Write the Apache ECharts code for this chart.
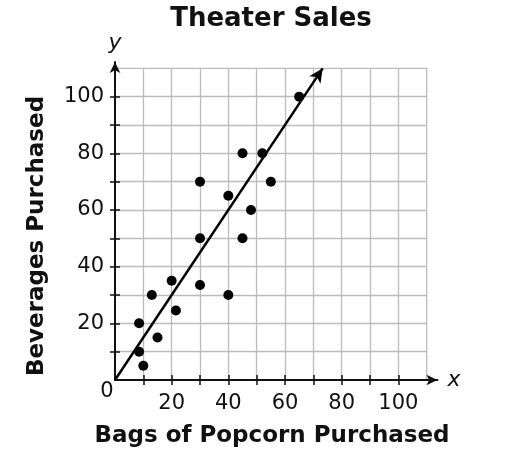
<!DOCTYPE html>
<html>
<head>
<meta charset="utf-8">
<script src="https://cdn.jsdelivr.net/npm/echarts@6/dist/echarts.min.js"></script>
<style>html,body{margin:0;padding:0;background:#fff;}#c{width:521px;height:470px;}</style>
</head>
<body>
<div id="c"></div>
<script>
// ---- data ----
const titleText = 'Theater Sales';
const xTitle = 'Bags of Popcorn Purchased';
const yTitle = 'Beverages Purchased';
const popcorn   = [8.5, 8.5, 10, 13, 15, 20, 21.5, 30, 30, 30, 40, 40, 45, 45, 48, 52, 55, 65];
const beverages = [20, 10, 5, 30, 15, 35, 24.5, 50, 33.5, 70, 30, 65, 50, 80, 60, 80, 70, 100];
const fitStart = [0, 0];
const fitEnd = [73.3, 110];
const tickValues = [10, 20, 30, 40, 50, 60, 70, 80, 90, 100];
const labelValues = [20, 40, 60, 80, 100];
const gridMax = 110;
const axisXEnd = 113.8;
const axisYEnd = 112.2;

// ---- layout ----
const ox = 115, oy = 380, unit = 311.67 / 110;
const font = '"DejaVu Sans", Verdana, sans-serif';
const ink = '#111';
const gridStyle = {color: '#bcbcbc', width: 1.3};

const points = popcorn.map((x, i) => [x, beverages[i]]);

const chart = echarts.init(document.getElementById('c'), null, {renderer: 'canvas'});
chart.setOption({
  animation: false,
  backgroundColor: '#fff',
  grid: [
    {left: ox, top: oy - gridMax * unit, width: gridMax * unit, height: gridMax * unit, containLabel: false, outerBoundsMode: 'none',
     show: true, borderColor: '#bcbcbc', borderWidth: 1.3, backgroundColor: 'transparent'},
    {left: ox, top: oy - axisYEnd * unit, width: axisXEnd * unit, height: axisYEnd * unit, containLabel: false, outerBoundsMode: 'none'}
  ],
  xAxis: [
    {gridIndex: 0, type: 'value', min: 0, max: gridMax, interval: 10,
     axisLine: {show: false}, axisLabel: {show: false},
     axisTick: {show: true, inside: true, length: 5, customValues: tickValues, lineStyle: {color: ink, width: 1.5}},
     splitLine: {show: true, lineStyle: gridStyle}},
    {gridIndex: 1, type: 'value', min: 0, max: axisXEnd,
     axisLine: {show: true, symbol: ['none', 'arrow'], symbolSize: [8, 11], lineStyle: {color: ink, width: 2}},
     axisTick: {show: true, inside: false, length: 5, customValues: tickValues, lineStyle: {color: ink, width: 1.5}},
     axisLabel: {show: true, customValues: labelValues, margin: 13, fontSize: 21, fontFamily: font, color: ink},
     splitLine: {show: false},
     name: 'x', nameLocation: 'end', nameGap: 10,
     nameTextStyle: {fontSize: 22, fontStyle: 'italic', fontFamily: font, color: ink, verticalAlign: 'middle'}}
  ],
  yAxis: [
    {gridIndex: 0, type: 'value', min: 0, max: gridMax, interval: 10,
     axisLine: {show: false}, axisLabel: {show: false},
     axisTick: {show: true, inside: true, length: 5, customValues: tickValues, lineStyle: {color: ink, width: 1.5}},
     splitLine: {show: true, lineStyle: gridStyle}},
    {gridIndex: 1, type: 'value', min: 0, max: axisYEnd,
     axisLine: {show: true, symbol: ['none', 'arrow'], symbolSize: [8, 11], lineStyle: {color: ink, width: 2}},
     axisTick: {show: true, inside: false, length: 5, customValues: tickValues, lineStyle: {color: ink, width: 1.5}},
     axisLabel: {show: true, customValues: labelValues, margin: 11, fontSize: 21, fontFamily: font, color: ink},
     splitLine: {show: false},
     name: 'y', nameLocation: 'end', nameGap: 8,
     nameTextStyle: {fontSize: 22, fontStyle: 'italic', fontFamily: font, color: ink, align: 'center'}}
  ],
  series: [
    {type: 'scatter', xAxisIndex: 1, yAxisIndex: 1, data: points, symbolSize: 10,
     itemStyle: {color: '#000', opacity: 1}, clip: false, silent: true,
     markLine: {silent: true, symbol: ['none', 'arrow'], symbolSize: [10, 14],
       label: {show: false}, lineStyle: {color: '#000', width: 2.5, type: 'solid', opacity: 1},
       data: [[{coord: fitStart}, {coord: fitEnd}]]}}
  ],
  graphic: [
    {type: 'text', x: 271, y: 19, style: {text: titleText, font: 'bold 26px ' + font, fill: ink, align: 'center', verticalAlign: 'middle'}},
    {type: 'text', x: 272, y: 436, style: {text: xTitle, font: 'bold 23px ' + font, fill: ink, align: 'center', verticalAlign: 'middle'}},
    {type: 'text', x: 37, y: 236, rotation: Math.PI / 2, style: {text: yTitle, font: 'bold 23px ' + font, fill: ink, align: 'center', verticalAlign: 'middle'}},
    {type: 'text', x: 107, y: 392, style: {text: '0', font: '21px ' + font, fill: ink, align: 'center', verticalAlign: 'middle'}}
  ]
});
</script>
</body>
</html>
